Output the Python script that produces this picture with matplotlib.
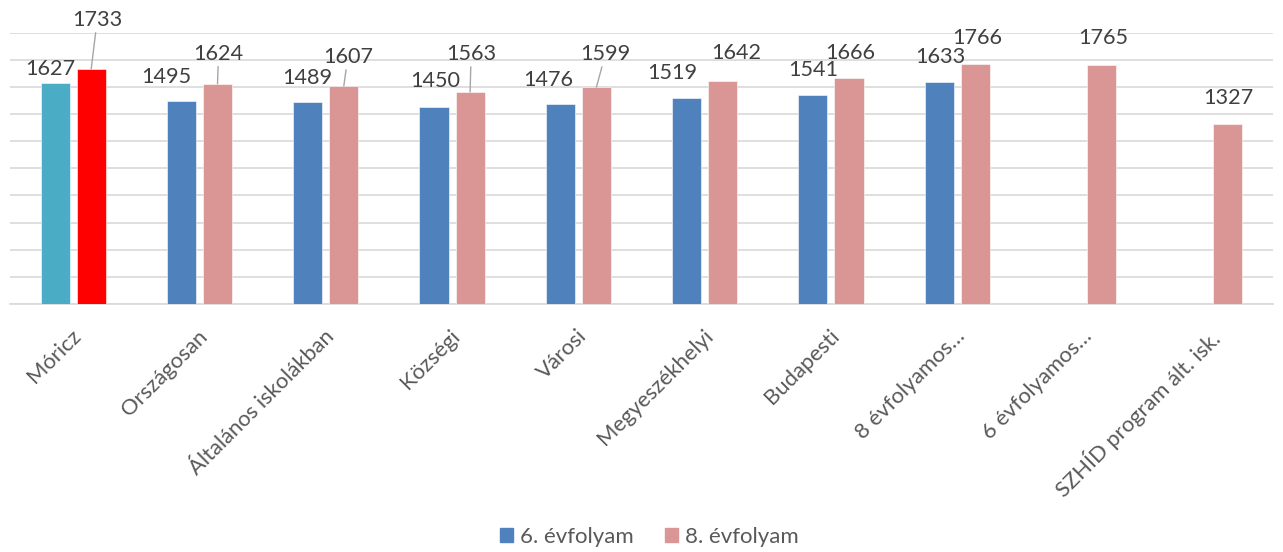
import numpy as np
import matplotlib
matplotlib.use('Agg')
import matplotlib.pyplot as plt
from matplotlib.patches import Patch

plt.rcParams['font.family'] = ['Lato', 'DejaVu Sans']

categories = ['Móricz', 'Országosan', 'Általános iskolákban', 'Községi', 'Városi',
              'Megyeszékhelyi', 'Budapesti', '8 évfolyamos…', '6 évfolyamos…',
              'SZHÍD program ált. isk.']
grade6 = [1627, 1495, 1489, 1450, 1476, 1519, 1541, 1633, np.nan, np.nan]
grade8 = [1733, 1624, 1607, 1563, 1599, 1642, 1666, 1766, 1765, 1327]
series_names = ['6. évfolyam', '8. évfolyam']

# colours: first group highlighted
col6 = ['#4BACC6'] + ['#4F81BD'] * 9
col8 = ['#FF0000'] + ['#D99694'] * 9

# label offsets in pixels from bar top (dx, dy), leader lines for some
off6 = [(-5, 14), (-15, 24), (0, 24), (1, 26), (-12, 24), (-14, 25), (0, 25), (1, 25), None, None]
off8 = [(6, 49), (1, 30), (4, 29), (1, 38), (9, 33), (14, 28), (1, 25), (2, 26), (2, 27), (0, 26)]
lead8 = [True, True, True, True, True, False, False, False, False, False]

fig = plt.figure(figsize=(12.83, 5.52), dpi=100)
ax = fig.add_axes([10/1283, 1 - 304/552, 1263/1283, 271.3/552])

x = np.arange(len(categories))
w = 0.23
d = 0.143
ax.bar(x - d, grade6, w, color=col6, edgecolor='white', linewidth=0.4, zorder=3)
ax.bar(x + d, grade8, w, color=col8, edgecolor='white', linewidth=0.4, zorder=3)

ax.set_xlim(-0.5, len(categories) - 0.5)
ax.set_ylim(0, 2000)
ax.set_yticks(np.arange(0, 2001, 200))
ax.yaxis.grid(True, color='#d9d9d9', linewidth=1.2, zorder=0)
ax.tick_params(axis='y', left=False, labelleft=False)
ax.tick_params(axis='x', length=0, pad=0)
for s in ['top', 'right', 'left']:
    ax.spines[s].set_visible(False)
ax.spines['bottom'].set_color('#d9d9d9')
ax.spines['bottom'].set_linewidth(1.2)

ax.set_xticks(x)
ax.set_xticklabels([])
for i, c in enumerate(categories):
    ax.annotate(c, xy=(x[i], 0), xytext=(-2, -22), textcoords='offset pixels',
                rotation=45, ha='right', va='top', rotation_mode='anchor',
                fontsize=15.8, color='#595959', annotation_clip=False)

for i in range(len(categories)):
    if off6[i] is not None and not np.isnan(grade6[i]):
        ax.annotate(str(grade6[i]), xy=(x[i] - d, grade6[i]), xytext=off6[i],
                    textcoords='offset pixels', ha='center', va='center',
                    fontsize=15.6, color='#404040')
    ap = dict(arrowstyle='-', color='#a6a6a6', lw=1, shrinkA=0, shrinkB=0) if lead8[i] else None
    ax.annotate(str(grade8[i]), xy=(x[i] + d, grade8[i]), xytext=off8[i],
                textcoords='offset pixels', ha='center', va='center',
                fontsize=15.6, color='#404040', arrowprops=ap)

handles = [Patch(color='#4F81BD'), Patch(color='#D99694')]
fig.legend(handles, series_names, loc='center', bbox_to_anchor=(649/1283, 1 - 537/552),
           ncol=2, frameon=False, fontsize=16, handlelength=0.6, handleheight=0.6,
           handletextpad=0.3, columnspacing=1.4, labelcolor='#595959')

fig.savefig('out.png', dpi=100)
